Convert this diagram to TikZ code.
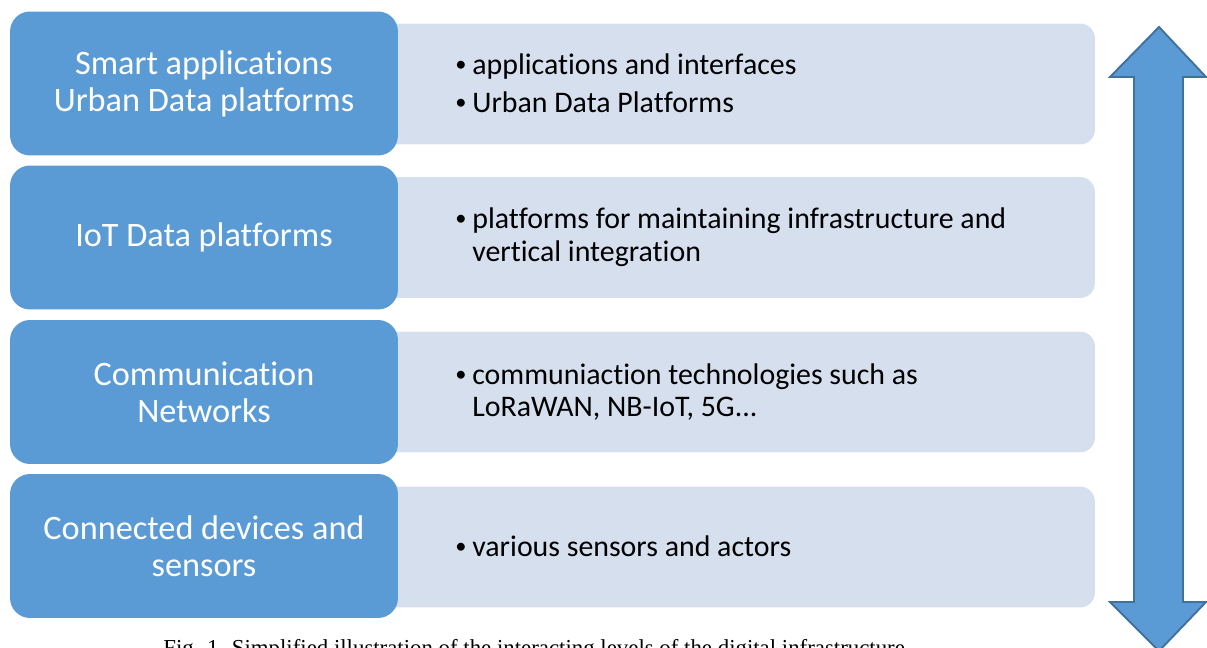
\documentclass[tikz,border=0pt]{standalone}
\usepackage{graphicx}
\usepackage{fontspec}
\setmainfont{Carlito}[Ligatures=NoCommon]
\newfontfamily\capfont{Liberation Serif}
\usetikzlibrary{positioning}
\definecolor{layerblue}{HTML}{5B9BD5}
\definecolor{layerlight}{HTML}{D6DFEE}
\definecolor{arrowline}{HTML}{41719C}
\newcommand{\bul}{\makebox[0.4cm][l]{\hspace{0.06cm}\raisebox{0.1em}{\scalebox{0.75}{\textbullet}}}}
\newcommand{\nobul}{\hspace*{0.4cm}}

\begin{document}
\begin{tikzpicture}[x=0.02cm, y=-0.02cm,
    level/.style={fill=layerblue, rounded corners=0.4cm, minimum width=7.76cm, minimum height=2.88cm,
        align=center, text=white, font=\fontsize{19.5}{21}\selectfont},
    detail/.style={fill=layerlight, rounded corners=0.3cm, minimum width=14.7cm, minimum height=2.42cm},
    bullets/.style={anchor=west, align=left, inner sep=0pt, font=\fontsize{17}{18.5}\selectfont}]
    \useasboundingbox (0,0) rectangle (1207,648);
    % light boxes behind
    \node[detail] (d1) at (727.5, 84) {};
    \node[detail] (d2) at (727.5, 237.5) {};
    \node[detail] (d3) at (727.5, 392) {};
    \node[detail] (d4) at (727.5, 547) {};
    % levels
    \node[level] (l1) at (204, 83.5) {Smart applications\\Urban Data platforms};
    \node[level] (l2) at (204, 237.5) {IoT Data platforms};
    \node[level] (l3) at (204, 392) {Communication\\Networks};
    \node[level] (l4) at (204, 546) {Connected devices and\\sensors};
    % details
    \node[bullets] (t1) at (452, 83) {\bul applications and interfaces\\[3pt]\bul Urban Data Platforms};
    \node[bullets] (t2) at (452, 237) {\bul platforms for maintaining infrastructure and\\\nobul vertical integration};
    \node[bullets] (t3) at (452, 392) {\bul communiaction technologies such as\\\nobul LoRaWAN, NB-IoT, 5G...};
    \node[bullets] (t4) at (452, 546) {\bul various sensors and actors};
    % double arrow
    \filldraw[fill=layerblue, draw=arrowline, line width=1.1pt]
        (1159,27) -- (1206,77) -- (1183,77) -- (1183,602) -- (1206,602) -- (1159,651)
        -- (1110,602) -- (1134,602) -- (1134,77) -- (1110,77) -- cycle;
    % caption, cut by the page edge
    \node[anchor=base west, inner sep=0pt, font=\capfont\fontsize{13}{15}\selectfont] (cap) at (163, 655)
        {Fig. 1. Simplified illustration of the interacting levels of the digital infrastructure};
\end{tikzpicture}
\end{document}
